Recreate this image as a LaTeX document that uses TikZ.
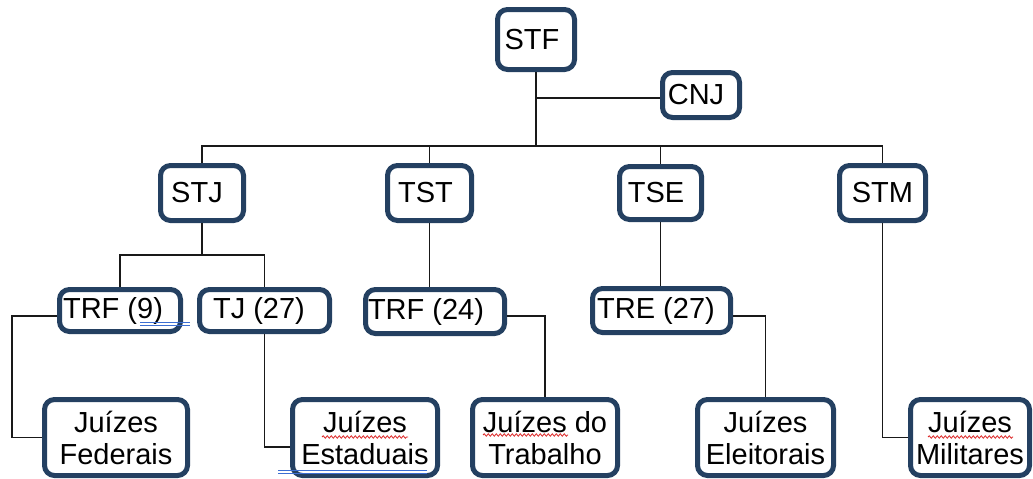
\documentclass[tikz,border=0pt]{standalone}
\usepackage{fontspec}
\setmainfont{Liberation Sans}
\usetikzlibrary{calc,decorations.pathmorphing}
\definecolor{navy}{RGB}{36,64,97}
\definecolor{spellblue}{RGB}{60,110,210}
\definecolor{spellred}{RGB}{220,40,40}
\begin{document}
\begin{tikzpicture}[x=1pt,y=-1pt,
  box/.style={draw=navy, line width=5pt, rounded corners=10pt, fill=white, inner sep=0pt, font=\fontsize{29}{32}\selectfont},
  box2/.style={box, align=center},
  conn/.style={draw=black!90, line width=1.5pt},
  wavy/.style={draw=spellred, line width=0.8pt, decorate, decoration={snake, amplitude=1.2pt, segment length=4pt}},
  dbl/.style={draw=spellblue, line width=0.9pt}]
\useasboundingbox (0,0) rectangle (1033,479);
% top
\node[box, minimum width=77pt, minimum height=60pt] (stf) at (536,39.5) {STF\kern8pt};
\node[box, minimum width=77pt, minimum height=45pt] (cnj) at (701,95) {CNJ\kern10pt};
% second row
\node[box, minimum width=83pt, minimum height=55pt] (stj) at (202,193) {STJ\kern10pt};
\node[box, minimum width=84pt, minimum height=55pt] (tst) at (429.5,193) {TST\kern8pt};
\node[box, minimum width=82pt, minimum height=53pt] (tse) at (660.5,193) {TSE\kern9pt};
\node[box, minimum width=86pt, minimum height=55pt] (stm) at (882.5,193) {STM};
% third row
\node[box, minimum width=121pt, minimum height=42pt] (trf9) at (120,310.5) {TRF (9)\kern14pt};
\node[box, minimum width=130pt, minimum height=42pt] (tj) at (264.5,310.5) {TJ (27)\kern11pt};
\node[box, minimum width=139pt, minimum height=44pt] (trf24) at (435,311.5) {TRF (24)\kern18pt};
\node[box, minimum width=138pt, minimum height=44pt] (tre) at (661.5,310.5) {TRE (27)\kern11pt};
% bottom row
\node[box2, minimum width=143pt, minimum height=76pt] (fed) at (116,437.5) {Juízes\\Federais};
\node[box2, minimum width=145pt, minimum height=76pt] (est) at (365,437.5) {Juízes\\Estaduais};
\node[box2, minimum width=145pt, minimum height=76pt] (trab) at (545,437.5) {Juízes do\\Trabalho};
\node[box2, minimum width=136pt, minimum height=76pt] (ele) at (765.5,437.5) {Juízes\\Eleitorais};
\node[box2, minimum width=119pt, minimum height=76pt] (mil) at (970,437.5) {Juízes\\Militares};
% connectors
\coordinate (bus) at (0,146);
\coordinate (bus2) at (0,255);
\draw[conn] (stf.south) -- (stf.south |- bus);
\draw[conn] ($(stf.south |- cnj.west)+(0,3)$) -- ($(cnj.west)+(0,3)$);
\draw[conn] (stj.north) -- (stj.north |- bus) -- (stm.north |- bus) -- (stm.north);
\draw[conn] (tst.north) -- (tst.north |- bus);
\draw[conn] (tse.north) -- (tse.north |- bus);
\draw[conn] (stj.south) -- (stj.south |- bus2);
\draw[conn] (trf9.north) -- (trf9.north |- bus2) -- (tj.north |- bus2) -- (tj.north);
\draw[conn] ($(trf9.west)+(0,5.5)$) -- ++(-45,0) |- (fed.west);
\draw[conn] (tj.south) |- ($(est.west)+(0,9.5)$);
\draw[conn] (tst.south) -- (tst.south |- trf24.north);
\draw[conn] ($(trf24.east)+(0,4.5)$) -| (trab.north);
\draw[conn] (tse.south) -- (tse.south |- tre.north);
\draw[conn] ($(tre.east)+(0,5.5)$) -| (ele.north);
\draw[conn] (stm.south) |- (mil.west);
% spell-check marks
\draw[dbl] (140,322) -- (190,322);
\draw[dbl] (140,325.5) -- (190,325.5);
\draw[dbl] (278,470) -- (427,470);
\draw[dbl] (278,473.5) -- (427,473.5);
\draw[wavy] (322,437) -- (408,437);
\draw[wavy] (483,435) -- (568,435);
\draw[wavy] (928,437) -- (1013,437);
\end{tikzpicture}
\end{document}
